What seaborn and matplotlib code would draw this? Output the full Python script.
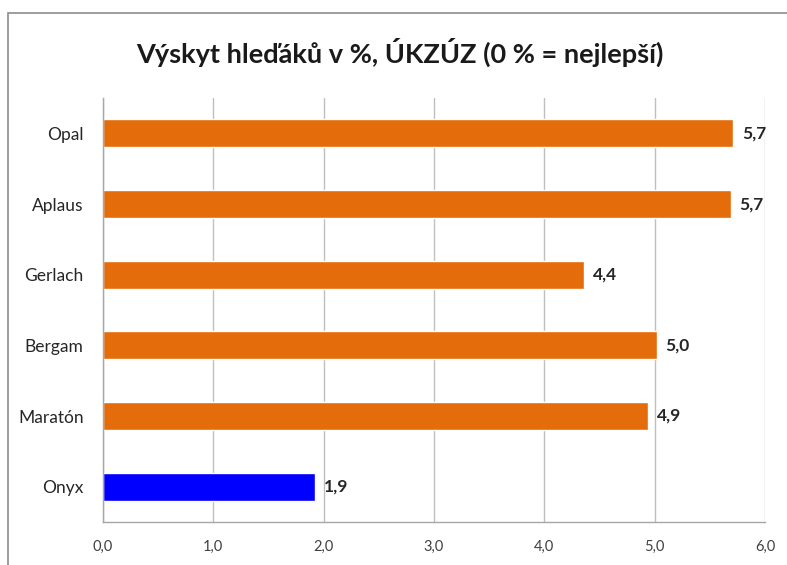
import pandas as pd
import numpy as np
import matplotlib
matplotlib.use("Agg")
import matplotlib.pyplot as plt
import seaborn as sns
from matplotlib.patches import Rectangle
from matplotlib.ticker import FixedLocator

# data
odrudy = ['Opal', 'Aplaus', 'Gerlach', 'Bergam', 'Maratón', 'Onyx']
vyskyt = [5.71, 5.69, 4.36, 5.02, 4.94, 1.92]
skupina = ['ostatni', 'ostatni', 'ostatni', 'ostatni', 'ostatni', 'onyx']
xticks = [0, 1, 2, 3, 4, 5, 6]

df = pd.DataFrame({'odruda': odrudy, 'vyskyt': vyskyt, 'skupina': skupina})

sns.set_theme(style='white')
plt.rcParams['font.family'] = ['Lato', 'DejaVu Sans']

fig = plt.figure(figsize=(7.87, 5.65), dpi=100)
ax = fig.add_axes([0.1309, 0.0761, 0.972 - 0.1309, 0.8265 - 0.0761])

# frame around the chart area (cut off at right/bottom like the screenshot)
fig.patches.append(Rectangle((8 / 787, -0.1), 1.2, 1 - 13 / 565 + 0.1,
                             transform=fig.transFigure, fill=False,
                             edgecolor='#8c8c8c', linewidth=1.2))

sns.barplot(data=df, y='odruda', x='vyskyt', hue='skupina', orient='h',
            palette={'ostatni': '#E46C0A', 'onyx': '#0000FF'},
            dodge=False, width=0.4, legend=False, ax=ax, saturation=1)

ax.set_xlim(0, 6)
ax.set_ylim(5.5, -0.5)
ax.set_xticks(xticks)
ax.set_xticklabels(['{:.1f}'.format(t).replace('.', ',') for t in xticks],
                   fontsize=10.5, color='#404040')
ax.tick_params(axis='y', length=0, labelsize=12.5, labelcolor='#262626', pad=14)
ax.yaxis.set_minor_locator(FixedLocator(np.arange(-0.5, 6, 1)))
ax.tick_params(axis='y', which='minor', length=5, color='#a6a6a6', width=1)
ax.tick_params(axis='x', length=5, color='#a6a6a6', width=1, pad=8, direction='out')
ax.set_xlabel('')
ax.set_ylabel('')

ax.grid(axis='x', color='#bfbfbf', linewidth=1)
ax.set_axisbelow(True)
for s in ['top', 'right']:
    ax.spines[s].set_visible(False)
for s in ['left', 'bottom']:
    ax.spines[s].set_color('#a6a6a6')
    ax.spines[s].set_linewidth(1)

# value labels
for i, v in enumerate(vyskyt):
    ax.text(v + 0.08, i, '{:.1f}'.format(v).replace('.', ','), va='center',
            ha='left', fontsize=12.5, fontweight='bold', color='#262626')

fig.text(0.508, 0.908, 'Výskyt hleďáků v %, ÚKZÚZ (0 % = nejlepší)',
         ha='center', va='center', fontsize=19.5, fontweight='bold', color='#1a1a1a')

fig.savefig('out.png', dpi=100)
